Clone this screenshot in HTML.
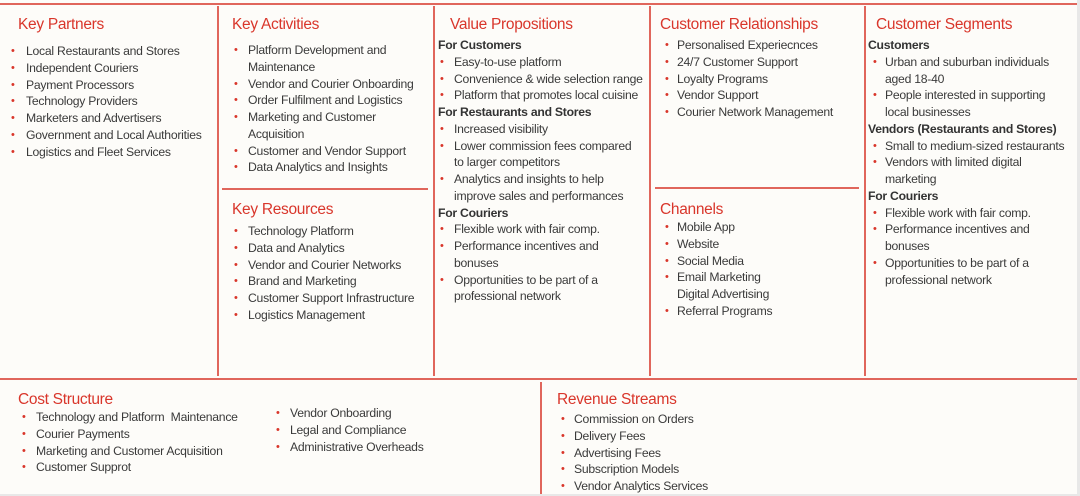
<!DOCTYPE html>
<html><head><meta charset="utf-8"><style>
body{margin:0;width:1080px;height:496px;background:#fdfcf9;position:relative;overflow:hidden;font-family:"Liberation Sans",sans-serif;color:#3a3a3a}
.l{position:absolute;background:#e0665c}
.t{position:absolute;color:#d9362b;font-size:15.5px;letter-spacing:-0.3px;line-height:20px;transform:translateY(-8px);white-space:nowrap}
.b{position:absolute;font-size:12.2px;line-height:16.75px;letter-spacing:-0.25px;white-space:nowrap}
.b div{position:relative}
.b .i::before{content:"•";color:#d9362b;position:absolute;left:var(--bl);font-size:11px}
.b .h{font-weight:bold;color:#333}
</style></head><body>
<div class="l" style="left:0;top:3px;width:1078px;height:1.5px"></div>
<div class="l" style="left:217px;top:6px;width:1.5px;height:370px"></div>
<div class="l" style="left:433px;top:6px;width:1.5px;height:370px"></div>
<div class="l" style="left:649px;top:6px;width:1.5px;height:370px"></div>
<div class="l" style="left:864px;top:6px;width:1.5px;height:370px"></div>
<div class="l" style="left:0;top:378px;width:1078px;height:1.5px"></div>
<div class="l" style="left:540px;top:382px;width:1.5px;height:114px"></div>
<div class="l" style="left:222px;top:188px;width:206px;height:1.5px"></div>
<div class="l" style="left:655px;top:187px;width:204px;height:1.5px"></div>
<div style="position:absolute;left:1077px;top:0;width:3px;height:496px;background:#e8e8e8"></div>
<div style="position:absolute;left:0;top:494px;width:1080px;height:2px;background:#e8e8e8"></div>

<div class="t" style="left:18px;top:23px">Key Partners</div>
<div class="b" style="left:26px;top:43px;--bl:-15px">
<div class="i">Local Restaurants and Stores</div><div class="i">Independent Couriers</div><div class="i">Payment Processors</div><div class="i">Technology Providers</div><div class="i">Marketers and Advertisers</div><div class="i">Government and Local Authorities</div><div class="i">Logistics and Fleet Services</div></div>

<div class="t" style="left:232px;top:23px">Key Activities</div>
<div class="b" style="left:248px;top:42px;--bl:-14px">
<div class="i">Platform Development and</div><div>Maintenance</div><div class="i">Vendor and Courier Onboarding</div><div class="i">Order Fulfilment and Logistics</div><div class="i">Marketing and Customer</div><div>Acquisition</div><div class="i">Customer and Vendor Support</div><div class="i">Data Analytics and Insights</div></div>

<div class="t" style="left:232px;top:208px">Key Resources</div>
<div class="b" style="left:248px;top:223px;--bl:-14px">
<div class="i">Technology Platform</div><div class="i">Data and Analytics</div><div class="i">Vendor and Courier Networks</div><div class="i">Brand and Marketing</div><div class="i">Customer Support Infrastructure</div><div class="i">Logistics Management</div></div>

<div class="t" style="left:450px;top:23px">Value Propositions</div>
<div class="b" style="left:438px;top:37px;--bl:-14px">
<div class="h">For Customers</div>
<div style="left:16px" class="i">Easy-to-use platform</div><div style="left:16px" class="i">Convenience &amp; wide selection range</div><div style="left:16px" class="i">Platform that promotes local cuisine</div>
<div class="h">For Restaurants and Stores</div>
<div style="left:16px" class="i">Increased visibility</div><div style="left:16px" class="i">Lower commission fees compared</div><div style="left:16px">to larger competitors</div><div style="left:16px" class="i">Analytics and insights to help</div><div style="left:16px">improve sales and performances</div>
<div class="h">For Couriers</div>
<div style="left:16px" class="i">Flexible work with fair comp.</div><div style="left:16px" class="i">Performance incentives and</div><div style="left:16px">bonuses</div><div style="left:16px" class="i">Opportunities to be part of a</div><div style="left:16px">professional network</div></div>

<div class="t" style="left:660px;top:23px">Customer Relationships</div>
<div class="b" style="left:677px;top:37px;--bl:-12px">
<div class="i">Personalised Experiecnces</div><div class="i">24/7 Customer Support</div><div class="i">Loyalty Programs</div><div class="i">Vendor Support</div><div class="i">Courier Network Management</div></div>

<div class="t" style="left:660px;top:208px">Channels</div>
<div class="b" style="left:677px;top:219px;--bl:-12px">
<div class="i">Mobile App</div><div class="i">Website</div><div class="i">Social Media</div><div class="i">Email Marketing</div><div>Digital Advertising</div><div class="i">Referral Programs</div></div>

<div class="t" style="left:876px;top:23px">Customer Segments</div>
<div class="b" style="left:868px;top:37px;--bl:-12px">
<div class="h">Customers</div>
<div style="left:17px" class="i">Urban and suburban individuals</div><div style="left:17px">aged 18-40</div><div style="left:17px" class="i">People interested in supporting</div><div style="left:17px">local businesses</div>
<div class="h">Vendors (Restaurants and Stores)</div>
<div style="left:17px" class="i">Small to medium-sized restaurants</div><div style="left:17px" class="i">Vendors with limited digital</div><div style="left:17px">marketing</div>
<div class="h">For Couriers</div>
<div style="left:17px" class="i">Flexible work with fair comp.</div><div style="left:17px" class="i">Performance incentives and</div><div style="left:17px">bonuses</div><div style="left:17px" class="i">Opportunities to be part of a</div><div style="left:17px">professional network</div></div>

<div class="t" style="left:18px;top:398px">Cost Structure</div>
<div class="b" style="left:36px;top:409px;--bl:-14px">
<div class="i">Technology and Platform&nbsp; Maintenance</div><div class="i">Courier Payments</div><div class="i">Marketing and Customer Acquisition</div><div class="i">Customer Supprot</div></div>
<div class="b" style="left:290px;top:405px;--bl:-14px">
<div class="i">Vendor Onboarding</div><div class="i">Legal and Compliance</div><div class="i">Administrative Overheads</div></div>

<div class="t" style="left:557px;top:398px">Revenue Streams</div>
<div class="b" style="left:574px;top:411px;--bl:-13px">
<div class="i">Commission on Orders</div><div class="i">Delivery Fees</div><div class="i">Advertising Fees</div><div class="i">Subscription Models</div><div class="i">Vendor Analytics Services</div></div>
</body></html>
